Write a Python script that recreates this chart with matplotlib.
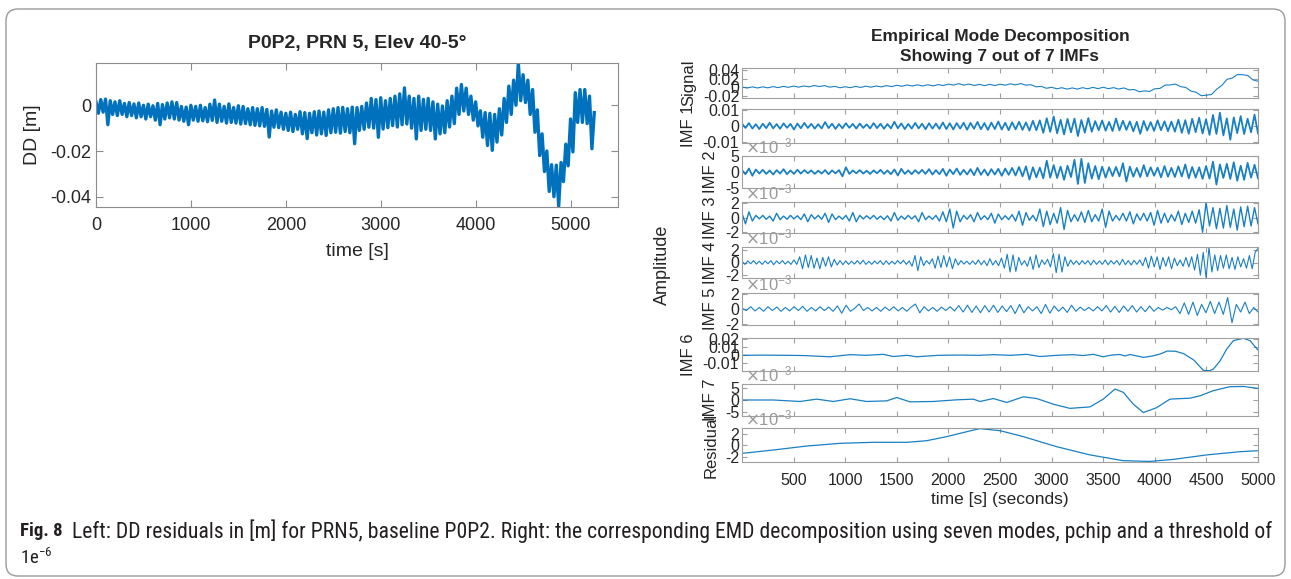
import matplotlib
matplotlib.use('Agg')
import matplotlib.pyplot as plt
import numpy as np
from matplotlib import ticker, font_manager
from matplotlib.patches import FancyBboxPatch
from matplotlib.transforms import IdentityTransform

plt.rcParams['font.family'] = ['Liberation Sans', 'DejaVu Sans']
plt.rcParams['axes.unicode_minus'] = False

# ---- left panel: DD residuals [m], one sample every 25 s ----
dd_step = 25
dd = [0.0015, -0.0035, 0.0025, -0.003, 0.0027, -0.0085, 0.002, -0.004, 0.0015, -0.0045,
      0.002, -0.004, 0.0008, -0.005, 0.0012, -0.0045, 0.0006, -0.0055, 0.001, -0.005,
      0.0, -0.006, 0.0005, -0.005, -0.0002, -0.0065, 0.0008, -0.0085, 0.0003, -0.006,
      0.001, -0.0055, 0.0015, -0.006, 0.0012, -0.0065, -0.0005, -0.007, -0.0008, -0.0085,
      0.0, -0.0065, -0.0005, -0.007, 0.0, -0.0068, -0.001, -0.0072, 0.0005, -0.0066,
      0.0023, -0.0075, 0.0005, -0.007, -0.0005, -0.0078, 0.0006, -0.0075, -0.001, -0.0078,
      -0.0002, -0.0082, -0.0005, -0.008, -0.0015, -0.0085, -0.001, -0.0088, -0.0015, -0.009,
      -0.001, -0.0092, -0.0018, -0.0139, -0.0025, -0.0096, -0.002, -0.0098, -0.003, -0.0105,
      -0.0035, -0.011, -0.003, -0.0115, -0.004, -0.0105, -0.0028, -0.0125, -0.0032, -0.0146,
      -0.0035, -0.012, -0.0028, -0.013, -0.0025, -0.0125, -0.003, -0.0132, -0.002, -0.012,
      -0.0015, -0.0118, -0.001, -0.0122, -0.0009, -0.0115, -0.0015, -0.012, -0.0008, -0.0168,
      -0.001, -0.011, -0.0005, -0.0105, 0.001, -0.0096, 0.003, -0.01, 0.0025, -0.014,
      0.0033, -0.0104, 0.002, -0.0098, 0.003, -0.0089, 0.004, -0.0095, 0.005, -0.0085,
      0.0076, -0.0082, 0.004, -0.01, 0.003, -0.0147, 0.004, -0.011, 0.0026, -0.0105,
      0.003, -0.011, 0.0015, -0.0147, 0.0005, -0.0125, -0.0003, -0.012, 0.002, -0.0095,
      0.004, -0.008, 0.0075, -0.004, 0.0091, -0.0025, 0.0075, -0.004, 0.004, -0.0065,
      0.0015, -0.009, -0.0024, -0.014, -0.0032, -0.0176, -0.0035, -0.0197, -0.004, -0.0161,
      -0.0015, -0.013, 0.003, -0.0075, 0.0084, -0.004, 0.011, 0.0, 0.0184, 0.002,
      0.0134, 0.0012, 0.011, -0.004, 0.0069, -0.0118, -0.002, -0.022, -0.0125, -0.029,
      -0.02, -0.0377, -0.026, -0.04, -0.0262, -0.0442, -0.025, -0.0334, -0.017, -0.0265,
      -0.006, -0.0204, 0.0055, -0.0075, 0.0069, -0.0075, 0.0069, -0.008, 0.004, -0.019, -0.0032]

# ---- right panel: EMD, values in units of 1e-3 ----
signal = [0.6, -1.7, 1.0, -1.6, 1.1, -1.3, 1.6, -0.8, 2.1, 0.0, 2.8, 0.3, 3.1, 1.0, 4.2, 1.7, 3.9, 0.3, 2.1, -1.1,
          1.3, -0.9, 2.1, -0.3, 2.6, 0.2, 3.1, 0.9, 3.9, 1.6, 4.7, 2.4, 5.4, 2.9, 5.7, 3.1, 5.9, 3.2, 6.4, 4.1,
          7.4, 5.1, 8.5, 5.2, 7.4, 4.2, 6.8, 3.9, 6.8, 4.1, 7.2, 4.8, 8.1, 5.6, 8.6, 5.0, 6.0, 1.1, 2.2, -2.3,
          0.0, -3.5, -1.0, -4.3, -1.5, -4.3, -0.9, -3.5, -0.2, -3.1, 0.1, -3.3, -0.8, -4.2, -1.5, -6.0, -5.2, -10.4, -8.5, -9.6,
          -3.4, -2.6, 5.0, 5.5, 7.6, 1.5, -0.4, -9.0, -11.5, -19.6, -18.4, -16.6, -4.4, 4.4, 18.6, 21.4, 29.6, 29.4, 27.6, 17.4,
          14.0]

imf1 = [1.5, -1.2, 1.8, -1.6, 1.1, -1.9, 1.4, -1.3, 2.0, -1.5, 1.2, -1.7, 1.6, -1.1, 1.3, -2.2, 1.5, -1.4, 1.9, -1.2,
        1.3, -1.6, 1.1, -1.5, 2.4, -1.3, 1.4, -1.8, 1.2, -1.4, 1.7, -1.1, 1.3, -1.6, 1.5, -1.2, 1.0, -1.5, 1.8, -1.3,
        1.4, -1.7, 1.2, -1.5, 2.6, -1.4, 1.6, -1.9, 1.3, -1.6, 1.9, -1.5, 1.4, -2.0, 1.7, -1.6, 1.5, -1.8, 2.2, -1.9,
        1.7, -2.1, 1.8, -1.6, 2.0, -2.3, 1.9, -1.7, 2.5, -2.0, 1.8, -2.4, 2.1, -1.9, 2.8, -2.2, 2.0, -2.6, 2.3, -2.1,
        2.6, -2.4, 2.2, -2.8, 3.2, -2.6,
        3.5, -4.2, 4.8, -3.6, 5.9, -4.5, 3.8, -5.2, 4.4, -3.9, 4.6, -6.2, 3.7, -4.1, 4.9, -3.5,
        3.0, -2.6, 3.4, -2.9, 2.5, -3.1, 4.6, -2.7, 3.2, -2.4, 2.8, -3.3, 2.6, -4.8, 3.1, -2.8, 2.4, -3.0, 3.5, -2.6,
        2.9, -3.2, 2.7,
        -3.5, 3.9, -4.2, 3.6, -4.8, 4.4, -3.8, 5.1, -4.6, 4.2, -5.5, 6.8, -4.9, 8.2, -5.8, 4.7, -8.5, 5.3, -4.4, 6.1,
        -5.0, 4.5, -3.9, 7.0, -4.6]

imf2 = [0.6, -0.7, 1.1, -1.2, 0.8, -0.5, 0.7, -0.6, 0.5, -0.8, 0.6, -0.5, 0.9, -0.7, 0.5, -0.6, 0.7, -0.5, 0.6, -0.4,
        0.5, -0.6, 0.4, -0.5, 0.6, -0.7, 0.5, -0.4, 0.6, -1.4, 1.5, -0.6, 0.5, -0.4, 0.6, -0.5, 0.4, -0.6, 0.5, -0.4,
        0.7, -0.6, 0.5, -0.7, 0.8, -1.1, 1.0, -0.6, 0.5, -0.7, 0.6, -0.5, 0.7, -0.6, 0.9, -0.8, 0.6, -0.7, 1.0, -1.2,
        0.8, -0.7, 1.1, -0.9, 0.7, -0.8, 0.9, -1.0, 1.3, -0.9, 0.8, -1.1, 0.9, -0.8, 1.0, -1.2, 1.1, -0.9, 1.3, -1.1,
        1.6, -1.4, 1.8, -2.4, 1.5, -1.7, 1.4,
        -2.0, 3.6, -1.8, 2.2, -1.9, 1.7, -2.5, 2.0, -1.6, 3.9, -3.8, 4.2, -3.5, 2.8, -2.1, 1.9, -2.3, 1.7, -1.8,
        1.5, -1.3, 1.6, -1.4, 2.8, -3.0, 1.7, -1.5, 1.3, -1.6, 2.2, -1.4, 1.5, -1.2, 1.4, -1.7, 1.9, -1.5, 1.3, -1.6,
        1.8, -1.4, 2.4, -2.0, 1.6, -1.8, 1.5, -2.2,
        1.9, -2.1, 3.3, -4.0, 2.4, -1.9, 2.6, -2.2, 3.1, -2.8, 2.0, -2.5, 2.9, -1.8, 2.3, -2.0]

imf3 = [0.6, -0.9, 0.8, -0.5, 0.3, -0.2, 0.3, -0.25, 0.2, -0.5, 0.6, -0.3, 0.2, -0.25, 0.3, -0.2, 0.25, -0.3, 0.5, -0.6,
        0.4, -0.2, 0.3, -0.25, 0.6, -0.7, 0.5, -0.3, 0.2, -0.25, 0.3, -0.5, 0.7, -0.6, 0.3, -0.2, 0.25, -0.2, 0.3, -0.25,
        0.2, -0.3, 0.25, -0.5, 0.7, -0.4, 0.2, -0.25, 0.3, -0.2, 0.25, -0.6, 0.7, -0.3, 0.2, -0.25, 0.3, -0.5, 0.8, -0.6,
        1.2, -1.5, 0.9, -0.6, 0.3, -0.25, 0.4, -0.6, 0.7, -0.3, 0.25, -0.3, 0.6, -0.8, 0.5, -0.3, 0.25, -0.3, 0.4, -0.5,
        0.9, -1.1, 0.7, -0.4, 0.3, -0.5, 1.2, -1.3, 0.9, -1.0, 0.6, -0.8, 1.4, -1.7, 1.0, -0.6, 0.4, -0.5, 0.8, -0.7,
        1.0, -0.6, 0.4, -0.5, 1.2, -1.4, 0.9, -0.5, 0.3, -0.4, 0.6, -0.5, 0.8, -0.9, 0.5, -0.4, 0.6, -0.5, 0.7, -1.1,
        1.0, -0.8, 0.6, -0.7, 0.4, -0.5, 0.9, -1.0, 0.6, -0.7, 0.9, -0.8, 1.1, -2.1, 2.1, -1.2, 1.4, -1.6, 1.3, -1.5,
        1.7, -1.4, 1.2, -1.8, 1.5, -1.3, 1.6, -1.2, 1.4, -0.9]

imf4 = [0.2, -0.3, 0.25, -0.2, 0.3, -0.25, 0.2, -0.3, 0.25, -0.2, 0.3, -0.35, 0.25, -0.2, 0.3, -0.25, 0.2, -0.3, 0.4, -0.3,
        0.9, -1.0, 1.2, -0.8, 1.1, -0.9, 0.7, -1.0, 0.8, -0.6, 0.9, -0.7, 0.5, -0.4, 0.3, -0.35, 0.25, -0.3, 0.2, -0.25,
        0.3, -0.25, 0.35, -0.3, 0.2, -0.3, 0.25, -0.2, 0.3, -0.35, 0.25, -0.3, 0.2, -0.25, 0.3, -0.2, 0.35, -0.3, 0.25, -0.6,
        1.1, -1.3, 0.9, -0.5, 0.3, -0.25, 0.6, -0.9, 1.0, -0.8, 1.1, -0.7, 0.9, -1.0, 0.6, -0.4, 0.3, -0.25, 0.2, -0.3,
        0.25, -0.3, 0.4, -0.35, 0.3, -0.5, 0.6, -0.4, 0.3, -0.5, 0.7, -0.9, 1.3, -1.5, 1.2, -1.4, 0.8, -0.4, 0.3, -0.6,
        0.9, -1.1, 1.2, -0.8, 0.4, -0.3, 0.5, -0.7, 1.4, -1.6, 1.3, -1.5, 0.9, -0.6, 0.4, -0.3, 0.25, -0.35, 0.3, -0.25,
        0.3, -0.4, 0.35, -0.3, 0.25, -0.3, 0.4, -0.35, 0.3, -0.25, 0.3, -0.4, 0.5, -0.35, 0.3, -0.4, 0.35, -0.3, 0.4, -0.5,
        0.8, -0.9, 1.0, -0.7, 0.9, -1.1, 0.8, -0.6, 0.9, -1.0, 0.7, -0.5, 0.4, -0.6, 0.8, -0.7, 0.9, -1.2, 1.3, -2.0,
        1.6, -2.4, 2.4, -1.5, 1.2, -1.3, 1.1, -0.9, 1.2, -1.0, 0.8, -1.1, 0.9, -0.7, 0.6, -0.9, 1.1, -1.0, 1.6, 2.2]

imf5 = [0.1, -0.2, 0.3, -0.25, 0.2, -0.3, 0.3, -0.2, 0.25, -0.3, 0.2, -0.25, 0.3, -0.2, 0.35, -0.3, 0.2, -0.25, 0.3, -0.2,
        0.25, -0.3, 0.4, -0.55, 0.5, -0.3, 0.1, 0.65, -0.2, 0.2, -0.25, 0.2, -0.3, 0.25, -0.2, 0.3, -0.25, 0.2, -0.3, 0.25,
        0.65, -0.5, 0.3, -0.25, 0.2, -0.3, 0.25, -0.2, 0.3, -0.25, 0.45, -0.4, 0.5, -0.45, 0.4, -0.5, 0.45, -0.4, 0.5, -0.45,
        0.4, -0.35, 0.45, -0.6, 0.6, -0.5, 0.3, -0.25, 0.3, -0.6, 0.6, -0.55, 0.4, -0.3, 0.25, -0.45, 0.5, -0.3, 0.25, -0.2,
        0.2, -0.25, 0.3, -0.25, 0.45, -0.4, 0.35, -0.45, 0.4, -0.3, 0.45, -0.4, 0.3, -0.35, 0.4, -0.3, 0.2, -0.15, 0.2, -0.1,
        0.3, -0.6, 0.8, -0.7, 0.9, -0.85, 0.6, -0.5, 1.0, -0.6, 0.9, -0.7, 1.5, -1.8, 0.6, -0.4, 0.9, -0.6, 0.2, -0.4]

imf6_t = [0, 200, 450, 600, 853, 1047, 1200, 1370, 1466, 1600, 1693, 1900, 2100, 2300, 2435, 2600, 2758, 2888,
          3050, 3211, 3300, 3404, 3501, 3580, 3663, 3710, 3760, 3889, 3970, 4050, 4120, 4200, 4280, 4380, 4470,
          4530, 4567, 4632, 4696, 4761, 4858, 4923, 5000]
imf6 = [0, 0.2, 0, -0.3, -1.8, 0.8, 0, 1.2, -1.5, 0, -1.8, 0, 0.3, 0, 0.8, 0, 1.2, -1.5,
        0, 0.8, -0.3, 1.2, -1.8, 0.3, 1.0, -0.8, 1.0, -2.5, -1.0, 1.5, 5.2, 5.0, 2.0, -6.0, -18.5,
        -19.0, -17.0, -7.0, 7.5, 18.0, 21.0, 18.0, 6.5]

imf7_t = [0, 304, 562, 724, 885, 1047, 1208, 1402, 1499, 1628, 1854, 2080, 2242, 2306, 2435, 2565, 2726, 2855,
          3017, 3178, 3372, 3501, 3614, 3695, 3792, 3889, 4018, 4147, 4341, 4438, 4567, 4729, 4858, 5000]
imf7 = [0, 0, -0.6, 0.35, -0.6, 0.5, -0.6, -0.35, 1.0, -0.75, -0.6, 0.07, 0.35, -0.6, 0.6, -1.0, 1.3, 0.6,
        -1.7, -3.4, -2.8, 0.35, 4.45, 3.1, -1.7, -5.1, -3.1, 0.35, 0.75, 1.7, 3.8, 5.4, 5.5, 4.7]

resid_t = [0, 304, 627, 950, 1273, 1596, 1789, 1983, 2242, 2306, 2500, 2726, 3049, 3372, 3695, 3953, 4180,
           4503, 4826, 5000]
resid = [-1.34, -0.77, -0.1, 0.36, 0.53, 0.53, 0.8, 1.49, 2.6, 2.84, 2.5, 1.49, -0.21, -1.6, -2.58, -2.7, -2.36,
         -1.6, -1.06, -0.89]

W, H = 1291, 579
BLUE = '#0072BD'
DARK = '#262626'


def px_axes(fig, left, top, right, bottom):
    return fig.add_axes([left / W, 1 - bottom / H, (right - left) / W, (bottom - top) / H])


def style(ax, frame, size, length):
    for s in ax.spines.values():
        s.set_color(frame)
        s.set_linewidth(0.8)
    ax.tick_params(direction='in', top=True, right=True, color=frame, labelcolor=DARK,
                   labelsize=size, length=length, width=0.8)


fig = plt.figure(figsize=(W / 100, H / 100), dpi=100)
fig.patch.set_facecolor('white')

# left plot
ax = px_axes(fig, 96, 63, 618, 207)
ax.plot(np.arange(len(dd)) * dd_step, dd, color=BLUE, lw=2.4)
ax.set_xlim(0, 5500)
ax.set_ylim(-0.0445, 0.0185)
ax.set_xticks(np.arange(0, 5001, 1000))
ax.set_yticks([-0.04, -0.02, 0])
ax.yaxis.set_major_formatter(ticker.FuncFormatter(lambda v, p: '%g' % round(v, 6)))
style(ax, '#8c8c8c', 13, 5)
ax.tick_params(axis='x', pad=7)
ax.set_title('P0P2, PRN 5, Elev 40-5°', fontsize=14, fontweight='bold', color=DARK, pad=11)
ax.set_xlabel('time [s]', fontsize=14, color=DARK)
ax.set_ylabel('DD [m]', fontsize=14, color=DARK)
ax.yaxis.set_label_coords(-0.105, 0.5)
ax.xaxis.set_label_coords(0.5, -0.25)

# right plot (EMD)
tops = [68, 109, 156, 202, 247, 293, 338, 384, 428]
bots = [98, 143, 188, 233, 278, 325, 371, 416, 462]
panels = [
    ('Signal', np.linspace(0, 5000, len(signal)), signal, (-25, 45), [-20, 0, 20, 40], False, 0.8),
    ('IMF 1', np.linspace(0, 5000, len(imf1)), imf1, (-10.5, 10.5), [-10, 0, 10], False, 1.3),
    ('IMF 2', np.linspace(0, 5000, len(imf2)), imf2, (-5.1, 5.1), [-5, 0, 5], True, 1.3),
    ('IMF 3', np.linspace(0, 5000, len(imf3)), imf3, (-2.2, 2.2), [-2, 0, 2], True, 1.0),
    ('IMF 4', np.linspace(0, 5000, len(imf4)), imf4, (-2.45, 2.45), [-2, 0, 2], True, 0.8),
    ('IMF 5', np.linspace(0, 5000, len(imf5)), imf5, (-2.1, 2.1), [-2, 0, 2], True, 0.8),
    ('IMF 6', imf6_t, imf6, (-19.3, 21.3), [-10, 0, 10, 20], False, 0.9),
    ('IMF 7', imf7_t, imf7, (-6.5, 6.5), [-5, 0, 5], True, 0.9),
    ('Residual', resid_t, resid, (-2.8, 2.95), [-2, 0, 2], True, 0.9),
]
axes = []
for i, (name, t, y, lim, ticks, sci, lw) in enumerate(panels):
    a = px_axes(fig, 742, tops[i], 1258, bots[i])
    a.plot(t, np.array(y) * 1e-3, color=BLUE, lw=lw, alpha=0.9)
    a.set_xlim(0, 5000)
    a.set_ylim(lim[0] * 1e-3, lim[1] * 1e-3)
    a.set_xticks(np.arange(500, 5001, 500))
    a.set_yticks(np.array(ticks) * 1e-3)
    if sci:
        a.yaxis.set_major_formatter(ticker.FuncFormatter(lambda v, p: '%g' % round(v * 1e3, 6)))
        a.text(0.005, 1.0, r'$\times\mathregular{10^{-3}}$', transform=a.transAxes, ha='left', va='bottom',
               fontsize=12, color='#9a9a9a')
    else:
        a.yaxis.set_major_formatter(ticker.FuncFormatter(lambda v, p: '%g' % round(v, 6)))
    style(a, '#a0a0a0', 11.5, 3.5)
    a.tick_params(axis='y', pad=2)
    a.set_ylabel(name, fontsize=12, color=DARK, labelpad=5)
    if i < len(panels) - 1:
        a.tick_params(labelbottom=False)
    axes.append(a)

axes[-1].tick_params(axis='x', pad=8)
axes[-1].set_xlabel('time [s] (seconds)', fontsize=12.5, color=DARK, labelpad=3)
axes[0].set_title('Empirical Mode Decomposition\nShowing 7 out of 7 IMFs', fontsize=12.5,
                  fontweight='bold', color=DARK, pad=5, linespacing=1.45)
fig.text(662 / W, 1 - 265 / H, 'Amplitude', rotation=90, ha='center', va='center',
         fontsize=13, color=DARK)

# caption
names = {f.name for f in font_manager.fontManager.ttflist}
cap_font = 'Liberation Sans'
for cand in ['Liberation Sans Narrow', 'Roboto Condensed', 'Open Sans Condensed']:
    if cand in names:
        cap_font = cand
        break
CAP = '#231f20'
fig.text(20 / W, 1 - 531 / H, 'Fig. 8', fontsize=13.5, fontweight='bold', family=cap_font,
         color=CAP, va='center', ha='left')
cap = fig.text(72 / W, 1 - 531 / H,
               'Left: DD residuals in [m] for PRN5, baseline P0P2. Right: the corresponding EMD '
               'decomposition using seven modes, pchip and a threshold of',
               fontsize=13.5, family=cap_font, color=CAP, va='center', ha='left')
r = fig.canvas.get_renderer()
w = cap.get_window_extent(r).width
cap.set_fontsize(13.5 * (1275 - 72) / w)
fig.text(20 / W, 1 - 558 / H, '1e$^{\\mathregular{\u2212 6}}$'.replace('\u2212 ', '\u2212'),
         fontsize=13.5, family=cap_font, color=CAP, va='center', ha='left')

# rounded frame around everything
fig.add_artist(FancyBboxPatch((6, 3), 1279, 567, boxstyle='round,pad=0,rounding_size=12',
                              transform=IdentityTransform(), fill=False, ec='#9a9a9a', lw=1.0))

fig.savefig('out.png', dpi=100)
